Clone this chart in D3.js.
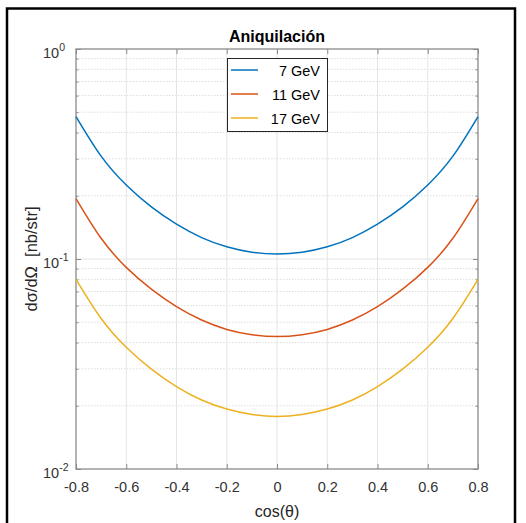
<!DOCTYPE html>
<html>
<head>
<meta charset="utf-8">
<style>

body {
  margin: 0;
  background: #fff;
}

svg {
  font-family: "Liberation Sans", Arial, sans-serif;
  fill: #262626;
}

.frame {
  fill: none;
  stroke: #000;
  stroke-width: 2.5px;
}

.box {
  fill: none;
  stroke: #8a8a8a;
  stroke-width: 1.3px;
}

.grid-major {
  stroke: #e4e4e4;
  stroke-width: 1px;
}

.grid-minor {
  stroke: #dedede;
  stroke-width: 1px;
  stroke-dasharray: 1.5 1.5;
}

.tick line {
  stroke: #8a8a8a;
}

.tick text {
  font-size: 14.5px;
  fill: #333;
}

.curve {
  fill: none;
  stroke-width: 1.5px;
}

</style>
</head>
<body>
<svg width="526" height="523"></svg>
<script src="https://d3js.org/d3.v7.min.js"></script>
<script>

// values
var cosTheta = [-0.8, -0.7, -0.6, -0.5, -0.4, -0.3, -0.2, -0.1, 0, 0.1, 0.2, 0.3, 0.4, 0.5, 0.6, 0.7, 0.8];
var sigma7  = [0.477, 0.309, 0.225, 0.177, 0.1465, 0.1265, 0.1143, 0.1077, 0.1056, 0.1077, 0.1143, 0.1265, 0.1465, 0.177, 0.225, 0.309, 0.477];
var sigma11 = [0.194, 0.1255, 0.0912, 0.0718, 0.0593, 0.0512, 0.0462, 0.0436, 0.0427, 0.0436, 0.0462, 0.0512, 0.0593, 0.0718, 0.0912, 0.1255, 0.194];
var sigma17 = [0.080, 0.0521, 0.0380, 0.0299, 0.0247, 0.0213, 0.0193, 0.0182, 0.0178, 0.0182, 0.0193, 0.0213, 0.0247, 0.0299, 0.0380, 0.0521, 0.080];
var seriesNames = ['7 GeV', '11 GeV', '17 GeV'];
var seriesColors = ['#0072BD', '#D95319', '#EDB120'];
var xTicks = [-0.8, -0.6, -0.4, -0.2, 0, 0.2, 0.4, 0.6, 0.8];
var yTicks = [1e-2, 1e-1, 1];
var yTickExp = ['-2', '-1', '0'];

var svg = d3.select('svg');

var pLeft = 76, pRight = 478, pTop = 49, pBottom = 469;

var x = d3.scaleLinear().domain([-0.8, 0.8]).range([pLeft, pRight]);
var y = d3.scaleLog().domain([1e-2, 1]).range([pBottom, pTop]);

var minorY = [];
[1e-2, 1e-1].forEach(function (d) {
  for (var k = 2; k <= 9; k++) minorY.push(d * k);
});

// grid
svg.selectAll('.grid-minor')
  .data(minorY)
  .enter().append('line')
  .attr('class', 'grid-minor')
  .attr('x1', pLeft).attr('x2', pRight)
  .attr('y1', function (d) { return y(d); })
  .attr('y2', function (d) { return y(d); });

svg.selectAll('.gx')
  .data(xTicks.slice(1, -1))
  .enter().append('line')
  .attr('class', 'grid-major gx')
  .attr('x1', function (d) { return x(d); })
  .attr('x2', function (d) { return x(d); })
  .attr('y1', pTop).attr('y2', pBottom);

svg.selectAll('.gy')
  .data(yTicks.slice(1, -1))
  .enter().append('line')
  .attr('class', 'grid-major gy')
  .attr('x1', pLeft).attr('x2', pRight)
  .attr('y1', function (d) { return y(d); })
  .attr('y2', function (d) { return y(d); });

// axes (ticks pointing inward, like matlab)
var xAxis = svg.append('g')
  .attr('transform', 'translate(0,' + pBottom + ')')
  .call(d3.axisBottom(x).tickValues(xTicks).tickSize(-5).tickPadding(13)
    .tickFormat(function (d) { return d === 0 ? '0' : d.toFixed(1); }));
xAxis.select('.domain').remove();

var xTopAxis = svg.append('g')
  .attr('transform', 'translate(0,' + pTop + ')')
  .call(d3.axisTop(x).tickValues(xTicks).tickSize(-5).tickFormat(''));
xTopAxis.select('.domain').remove();

var yLeft = svg.append('g')
  .attr('transform', 'translate(' + pLeft + ',0)')
  .call(d3.axisLeft(y).tickValues(yTicks).tickSize(-5).tickFormat(''));
yLeft.select('.domain').remove();

var yRight = svg.append('g')
  .attr('transform', 'translate(' + pRight + ',0)')
  .call(d3.axisRight(y).tickValues(yTicks).tickSize(-5).tickFormat(''));
yRight.select('.domain').remove();

var yMinorL = svg.append('g')
  .attr('transform', 'translate(' + pLeft + ',0)')
  .call(d3.axisLeft(y).tickValues(minorY).tickSize(-2.5).tickFormat(''));
yMinorL.select('.domain').remove();

var yMinorR = svg.append('g')
  .attr('transform', 'translate(' + pRight + ',0)')
  .call(d3.axisRight(y).tickValues(minorY).tickSize(-2.5).tickFormat(''));
yMinorR.select('.domain').remove();

// y tick labels 10^n
var yLab = svg.selectAll('.ylab')
  .data(yTicks)
  .enter().append('text')
  .attr('class', 'ylab')
  .attr('x', 43)
  .attr('y', function (d) { return y(d) + 9; })
  .style('font-size', '14.5px')
  .style('fill', '#333');
yLab.append('tspan').text('10');
yLab.append('tspan')
  .attr('dy', -7)
  .style('font-size', '10.5px')
  .text(function (d, i) { return yTickExp[i]; });

svg.append('rect')
  .attr('class', 'box')
  .attr('x', pLeft).attr('y', pTop)
  .attr('width', pRight - pLeft).attr('height', pBottom - pTop);

// curves
var line = d3.line()
  .x(function (d) { return x(d[0]); })
  .y(function (d) { return y(d[1]); })
  .curve(d3.curveNatural);

[sigma7, sigma11, sigma17].forEach(function (s, i) {
  svg.append('path')
    .datum(cosTheta.map(function (c, j) { return [c, s[j]]; }))
    .attr('class', 'curve')
    .attr('stroke', seriesColors[i])
    .attr('d', line);
});

// title and axis labels
svg.append('text')
  .attr('x', (pLeft + pRight) / 2).attr('y', 42)
  .attr('text-anchor', 'middle')
  .style('font-size', '16px')
  .style('font-weight', 'bold')
  .style('fill', '#000')
  .text('Aniquilación');

svg.append('text')
  .attr('x', (pLeft + pRight) / 2).attr('y', 517)
  .attr('text-anchor', 'middle')
  .style('font-size', '16px')
  .text('cos(θ)');

svg.append('text')
  .attr('transform', 'translate(37,' + (pTop + pBottom) / 2 + ') rotate(-90)')
  .attr('text-anchor', 'middle')
  .style('font-size', '16.5px')
  .style('white-space', 'pre')
  .text('dσ/dΩ  [nb/str]');

// legend
var legend = svg.append('g');
legend.append('rect')
  .attr('x', 227.5).attr('y', 58.5)
  .attr('width', 100).attr('height', 73)
  .attr('fill', '#fff')
  .attr('stroke', '#262626')
  .attr('stroke-width', 1);

seriesNames.forEach(function (name, i) {
  var ly = 70 + i * 24;
  legend.append('line')
    .attr('x1', 231).attr('x2', 258)
    .attr('y1', ly).attr('y2', ly)
    .attr('stroke', seriesColors[i])
    .attr('stroke-width', 1.5);
  legend.append('text')
    .attr('x', 320).attr('y', ly + 6)
    .attr('text-anchor', 'end')
    .style('font-size', '14.5px')
    .style('fill', '#000')
    .text(name);
});

// outer frame
svg.append('rect')
  .attr('class', 'frame')
  .attr('x', 7).attr('y', 8.5)
  .attr('width', 508).attr('height', 520);

</script>
</body>
</html>
